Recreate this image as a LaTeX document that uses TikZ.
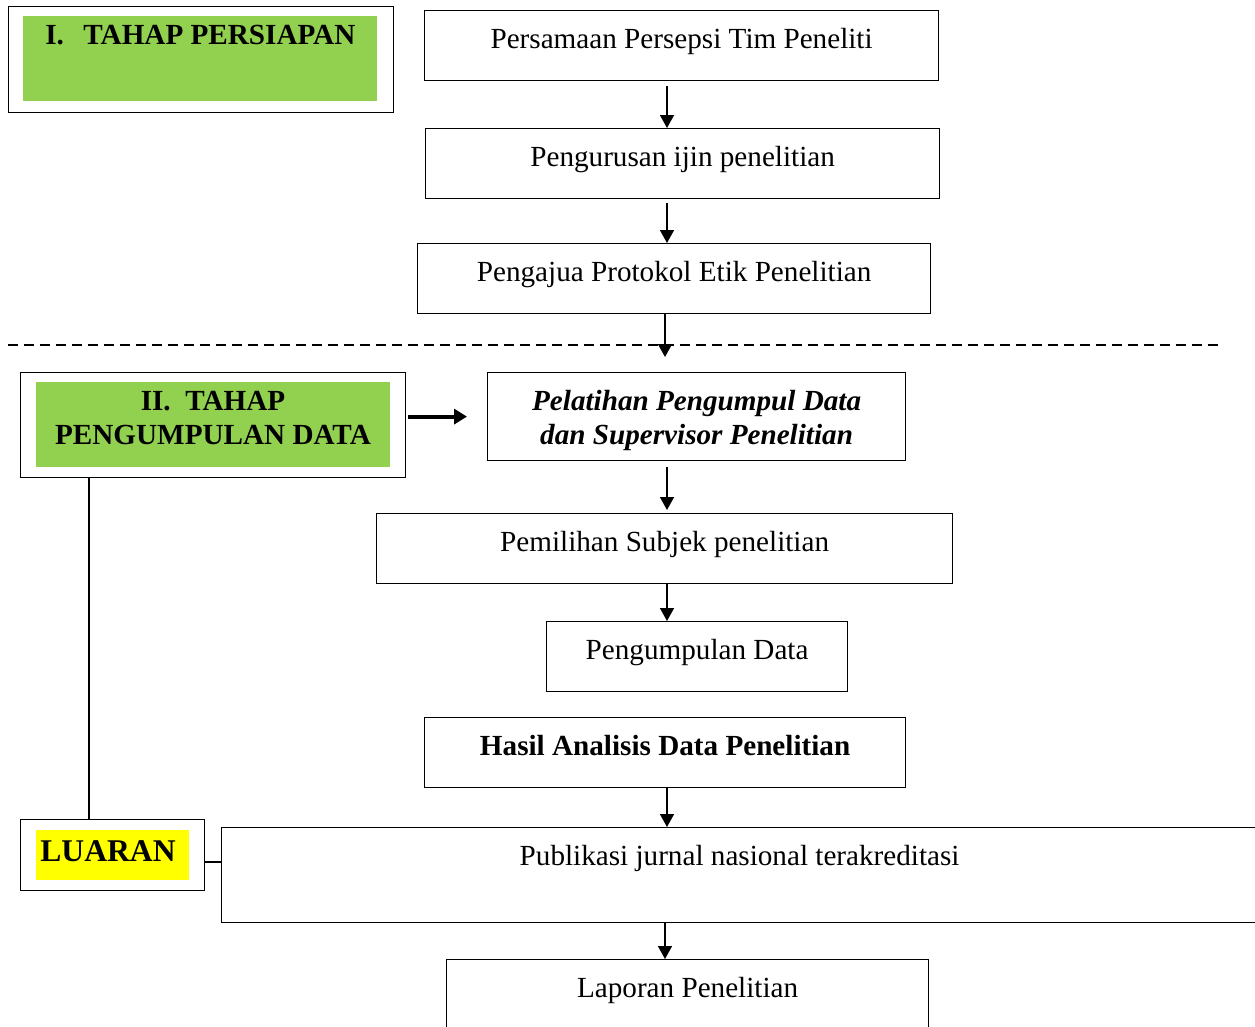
\documentclass[tikz,border=0pt]{standalone}
\usepackage{fontspec}
\setmainfont{Liberation Serif}
\usetikzlibrary{arrows.meta,positioning}
\newlength\px
\setlength\px{0.02cm}
\definecolor{tahapgreen}{HTML}{92D050}
\definecolor{luaranyellow}{HTML}{FFFF00}

\tikzset{
    stepbox/.style={draw, line width=0.7pt, inner sep=0pt, anchor=north west,
        text height=38\px, text depth=32\px,
        font=\fontsize{16.6}{20}\selectfont},
    outerbox/.style={draw, line width=0.7pt, inner sep=0pt, anchor=north west},
    fillbox/.style={inner sep=0pt, anchor=north west,
        font=\fontsize{16.6}{19.5}\selectfont\bfseries},
    flow/.style={-{Triangle[length=0.26cm,width=0.28cm]}, line width=0.9pt},
    thickflow/.style={-{Triangle[length=0.26cm,width=0.3cm]}, line width=2.2pt},
    link/.style={line width=0.9pt}
}

\begin{document}
\begin{tikzpicture}[x=0.02cm, y=-0.02cm]
        \useasboundingbox (0,0) rectangle (1255,1027);

        % Tahap persiapan
        \node[outerbox, minimum width=385\px, minimum height=106\px] (persiapanbox) at (8,6) {};
        \node[fillbox, fill=tahapgreen, minimum width=354\px,
            text height=28\px, text depth=57\px] (persiapan) at (23,16) {I.\ \ \,TAHAP PERSIAPAN};

        \node[stepbox, minimum width=514\px] (persamaan) at (424,10) {Persamaan Persepsi Tim Peneliti};
        \node[stepbox, minimum width=514\px] (pengurusan) at (425,128) {Pengurusan ijin penelitian};
        \node[stepbox, minimum width=513\px] (pengajua) at (417,243) {Pengajua Protokol Etik Penelitian};

        % Separator between the two stages
        \coordinate (sepL) at (8,345);
        \coordinate (sepR) at (1220,345);
        \coordinate (gapend) at (665,357);
        \draw[line width=0.7pt, dash pattern=on 0.2cm off 0.12cm] (sepL) -- (sepR);

        % Tahap pengumpulan data
        \node[outerbox, minimum width=385\px, minimum height=105\px] (pengumpulanbox) at (20,372) {};
        \node[fillbox, fill=tahapgreen, minimum width=354\px, minimum height=85\px] (pengumpulanfill) at (36,382) {};
        \node[font=\fontsize{16.6}{19.5}\selectfont\bfseries, align=center] (pengumpulanlabel)
            at (213,418) {II.\ \ TAHAP\\PENGUMPULAN DATA};

        \node[outerbox, minimum width=418\px, minimum height=88\px, align=center,
            font=\fontsize{16.6}{19.5}\selectfont\bfseries\itshape] (pelatihan) at (487,372)
            {\\[-6\px]Pelatihan Pengumpul Data\\dan Supervisor Penelitian};
        \node[stepbox, minimum width=576\px] (pemilihan) at (376,513) {Pemilihan Subjek penelitian};
        \node[stepbox, minimum width=301\px] (kumpuldata) at (546,621) {Pengumpulan Data};
        \node[stepbox, minimum width=481\px, font=\fontsize{16.6}{20}\selectfont\bfseries]
            (hasil) at (424,717) {Hasil Analisis Data Penelitian};

        % Luaran
        \node[outerbox, minimum width=184\px, minimum height=71\px] (luaranbox) at (20,819) {};
        \node[fillbox, fill=luaranyellow, minimum width=153\px, text width=145\px, inner xsep=4\px,
            align=left, text height=31\px, text depth=19\px,
            font=\fontsize{18}{20}\selectfont\bfseries] (luaran) at (36,830) {LUARAN};

        \node[stepbox, minimum width=1036\px, text depth=57\px] (publikasi) at (221,827)
            {Publikasi jurnal nasional terakreditasi};
        \node[stepbox, minimum width=482\px, text depth=70\px] (laporan) at (446,959)
            {Laporan Penelitian};

        % Connectors
        \coordinate (colA) at (667,0);
        \coordinate (colB) at (665,0);
        \coordinate (colC) at (89,0);
        \coordinate (luaranlink) at (204,862);

        \begin{scope}
            \draw[flow, shorten <=5\px] (persamaan.south -| colA) -- (pengurusan.north -| colA);
            \draw[flow, shorten <=4\px] (pengurusan.south -| colA) -- (pengajua.north -| colA);
            \draw[flow] (pengajua.south -| colB) -- (gapend);
            \draw[thickflow, shorten <=2\px, shorten >=20\px] (pengumpulanbox.east |- pelatihan) -- (pelatihan.west);
            \draw[flow, shorten <=6\px, shorten >=3\px] (pelatihan.south -| colA) -- (pemilihan.north -| colA);
            \draw[flow] (pemilihan.south -| colA) -- (kumpuldata.north -| colA);
            \draw[flow] (hasil.south -| colA) -- (publikasi.north -| colA);
            \draw[flow] (publikasi.south -| colB) -- (laporan.north -| colB);

            \draw[link] (pengumpulanbox.south -| colC) -- (luaranbox.north -| colC);
            \draw[link] (luaranbox.east |- luaranlink) -- (publikasi.west |- luaranlink);
        \end{scope}

\end{tikzpicture}
\end{document}
